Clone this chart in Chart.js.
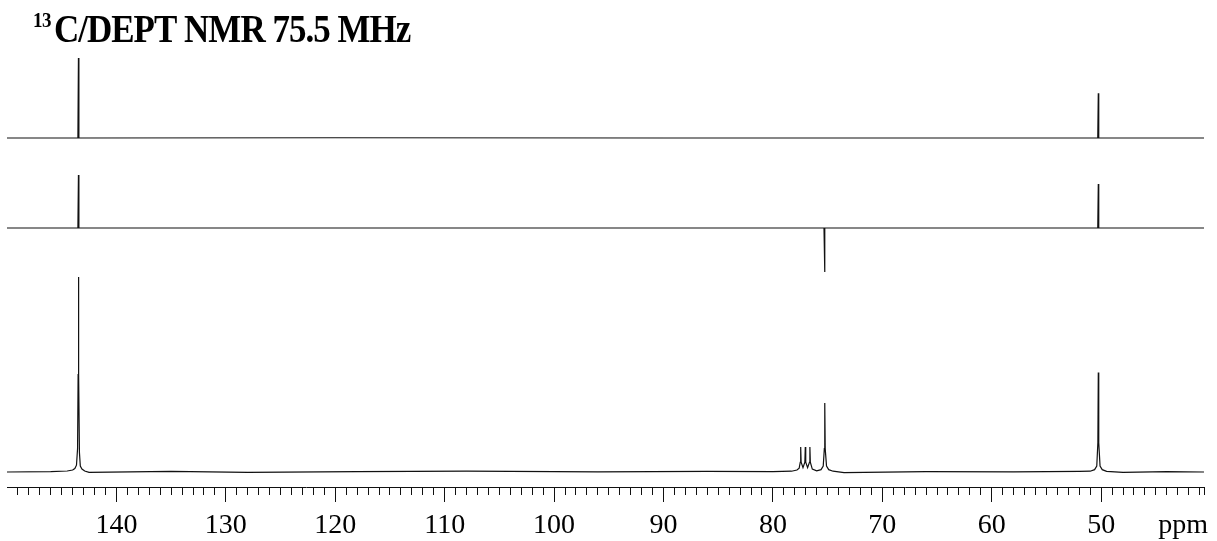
<!DOCTYPE html>
<html>
<head>
<meta charset="utf-8">
<script src="https://cdn.jsdelivr.net/npm/chart.js@4.4.1/dist/chart.umd.min.js"></script>
<style>
  body { margin: 0; background: #fff; }
  #wrap { width: 1217px; height: 541px; position: relative; }
</style>
</head>
<body>
<div id="wrap"><canvas id="nmrChart"></canvas></div>
<script>
// axis labels
const tickPpm = [140, 130, 120, 110, 100, 90, 80, 70, 60, 50];
const tickLabels = ['140', '130', '120', '110', '100', '90', '80', '70', '60', '50'];
const unitLabel = 'ppm';

// top trace (DEPT)
const topPpm = [150, 143.52, 143.47, 143.43, 120, 90, 50.31, 50.26, 50.22, 40.6];
const topInt = [0, 0, 1.0, 0, 0.003, 0, 0, 0.56, 0, 0];

// middle trace (DEPT, CH2 negative)
const midPpm = [150, 143.52, 143.47, 143.43, 100, 75.33, 75.28, 75.24, 60, 50.31, 50.26, 50.22, 40.6];
const midInt = [0, 0, 1.0, 0, 0, 0, -0.83, 0, 0, 0, 0.83, 0, 0];

// bottom trace (broadband 13C)
const botPpm = [150, 146, 144.5, 144.0, 143.8, 143.65, 143.55, 143.5, 143.47, 143.44, 143.38, 143.3, 143.15, 142.9, 142.5,
  135, 128, 118, 108, 96, 86, 80, 78.3, 77.8, 77.6, 77.5, 77.46, 77.42, 77.25, 77.08, 77.04, 77.0, 76.83, 76.66, 76.62, 76.58,
  76.4, 76.0, 75.6, 75.4, 75.3, 75.26, 75.22, 75.1, 74.9, 74.5, 73.5, 66, 58, 52, 51, 50.6, 50.4, 50.3, 50.26, 50.22, 50.1,
  49.9, 49.5, 48, 44, 40.6];
const botInt = [0, 0.002, 0.005, 0.01, 0.018, 0.035, 0.12, 0.5, 1.0, 0.5, 0.1, 0.03, 0.015, 0.005, -0.002,
  0.003, -0.002, 0.002, 0.004, 0.001, 0.003, 0.002, 0.004, 0.01, 0.02, 0.05, 0.128, 0.05, 0.022, 0.05, 0.128, 0.05, 0.022, 0.05, 0.128, 0.05,
  0.015, 0.006, 0.012, 0.03, 0.12, 0.354, 0.12, 0.03, 0.012, 0.004, -0.003, 0.002, 0.001, 0.003, 0.004, 0.012, 0.03, 0.15, 0.51, 0.15, 0.03,
  0.012, 0.003, -0.002, 0.002, 0];

// where each trace sits: baseline pixel and pixels per unit intensity
const areaTop = 50, areaBottom = 487;
const traceLayout = {
  y1: { baseline: 138, unit: 80 },
  y2: { baseline: 228, unit: 53 },
  y3: { baseline: 472, unit: 195 }
};

function toPoints(xs, ys) {
  return xs.map((x, i) => ({ x: x, y: ys[i] }));
}

function traceAxis(id) {
  const t = traceLayout[id];
  return {
    type: 'linear',
    display: false,
    min: -(areaBottom - t.baseline) / t.unit,
    max: (t.baseline - areaTop) / t.unit
  };
}

// title with superscript mass number, slightly tight spacing like the scan
const titlePlugin = {
  id: 'nmrTitle',
  afterDraw(chart) {
    const ctx = chart.ctx;
    const sy = 1.15;
    ctx.save();
    ctx.fillStyle = '#000';
    ctx.textBaseline = 'alphabetic';
    ctx.scale(1, sy);
    ctx.letterSpacing = '-0.5px';
    ctx.font = 'bold 19px "Liberation Serif"';
    ctx.fillText('13', 33, 27 / sy);
    ctx.letterSpacing = '-1px';
    ctx.font = 'bold 35px "Liberation Serif"';
    ctx.fillText('C/DEPT NMR 75.5 MHz', 54, 42 / sy);
    ctx.restore();
  }
};

const lineStyle = {
  borderColor: '#111',
  borderWidth: 1.2,
  pointRadius: 0,
  tension: 0,
  fill: false
};

const config = {
  type: 'line',
  data: {
    datasets: [
      Object.assign({ label: 'DEPT top', data: toPoints(topPpm, topInt), yAxisID: 'y1' }, lineStyle),
      Object.assign({ label: 'DEPT middle', data: toPoints(midPpm, midInt), yAxisID: 'y2' }, lineStyle),
      Object.assign({ label: '13C', data: toPoints(botPpm, botInt), yAxisID: 'y3' }, lineStyle)
    ]
  },
  options: {
    responsive: true,
    maintainAspectRatio: false,
    animation: false,
    layout: { padding: { left: 7, right: 13, top: areaTop, bottom: 0 } },
    plugins: {
      legend: { display: false },
      tooltip: { enabled: false }
    },
    scales: {
      x: {
        type: 'linear',
        reverse: true,
        min: 40.6,
        max: 150,
        afterBuildTicks: function (scale) {
          const ticks = [];
          for (let v = 149; v >= 41; v--) {
            ticks.push({ value: v });
            if (v === 43) ticks.push({ value: 42.5 });
          }
          ticks.push({ value: 40.6 });
          scale.ticks = ticks;
        },
        afterFit: function (scale) {
          scale.height = 541 - areaBottom;
        },
        ticks: {
          autoSkip: false,
          maxRotation: 0,
          padding: 7,
          color: '#000',
          font: { family: "'Liberation Serif', serif", size: 28 },
          callback: function (value) {
            if (value === 42.5) return unitLabel;
            const i = tickPpm.indexOf(value);
            return i >= 0 ? tickLabels[i] : '';
          }
        },
        grid: {
          drawOnChartArea: false,
          tickLength: 15,
          tickWidth: 1,
          tickColor: function (ctx) {
            return ctx.tick && ctx.tick.value === 42.5 ? 'rgba(0,0,0,0)' : '#111';
          },
          tickBorderDash: function (ctx) {
            // short ticks every ppm, long ones every 10
            return ctx.tick && tickPpm.indexOf(ctx.tick.value) >= 0 ? [] : [7, 40];
          }
        },
        border: { display: true, color: '#111', width: 1 }
      },
      y1: traceAxis('y1'),
      y2: traceAxis('y2'),
      y3: traceAxis('y3')
    }
  },
  plugins: [titlePlugin]
};

const nmrChart = new Chart(document.getElementById('nmrChart'), config);
</script>
</body>
</html>
